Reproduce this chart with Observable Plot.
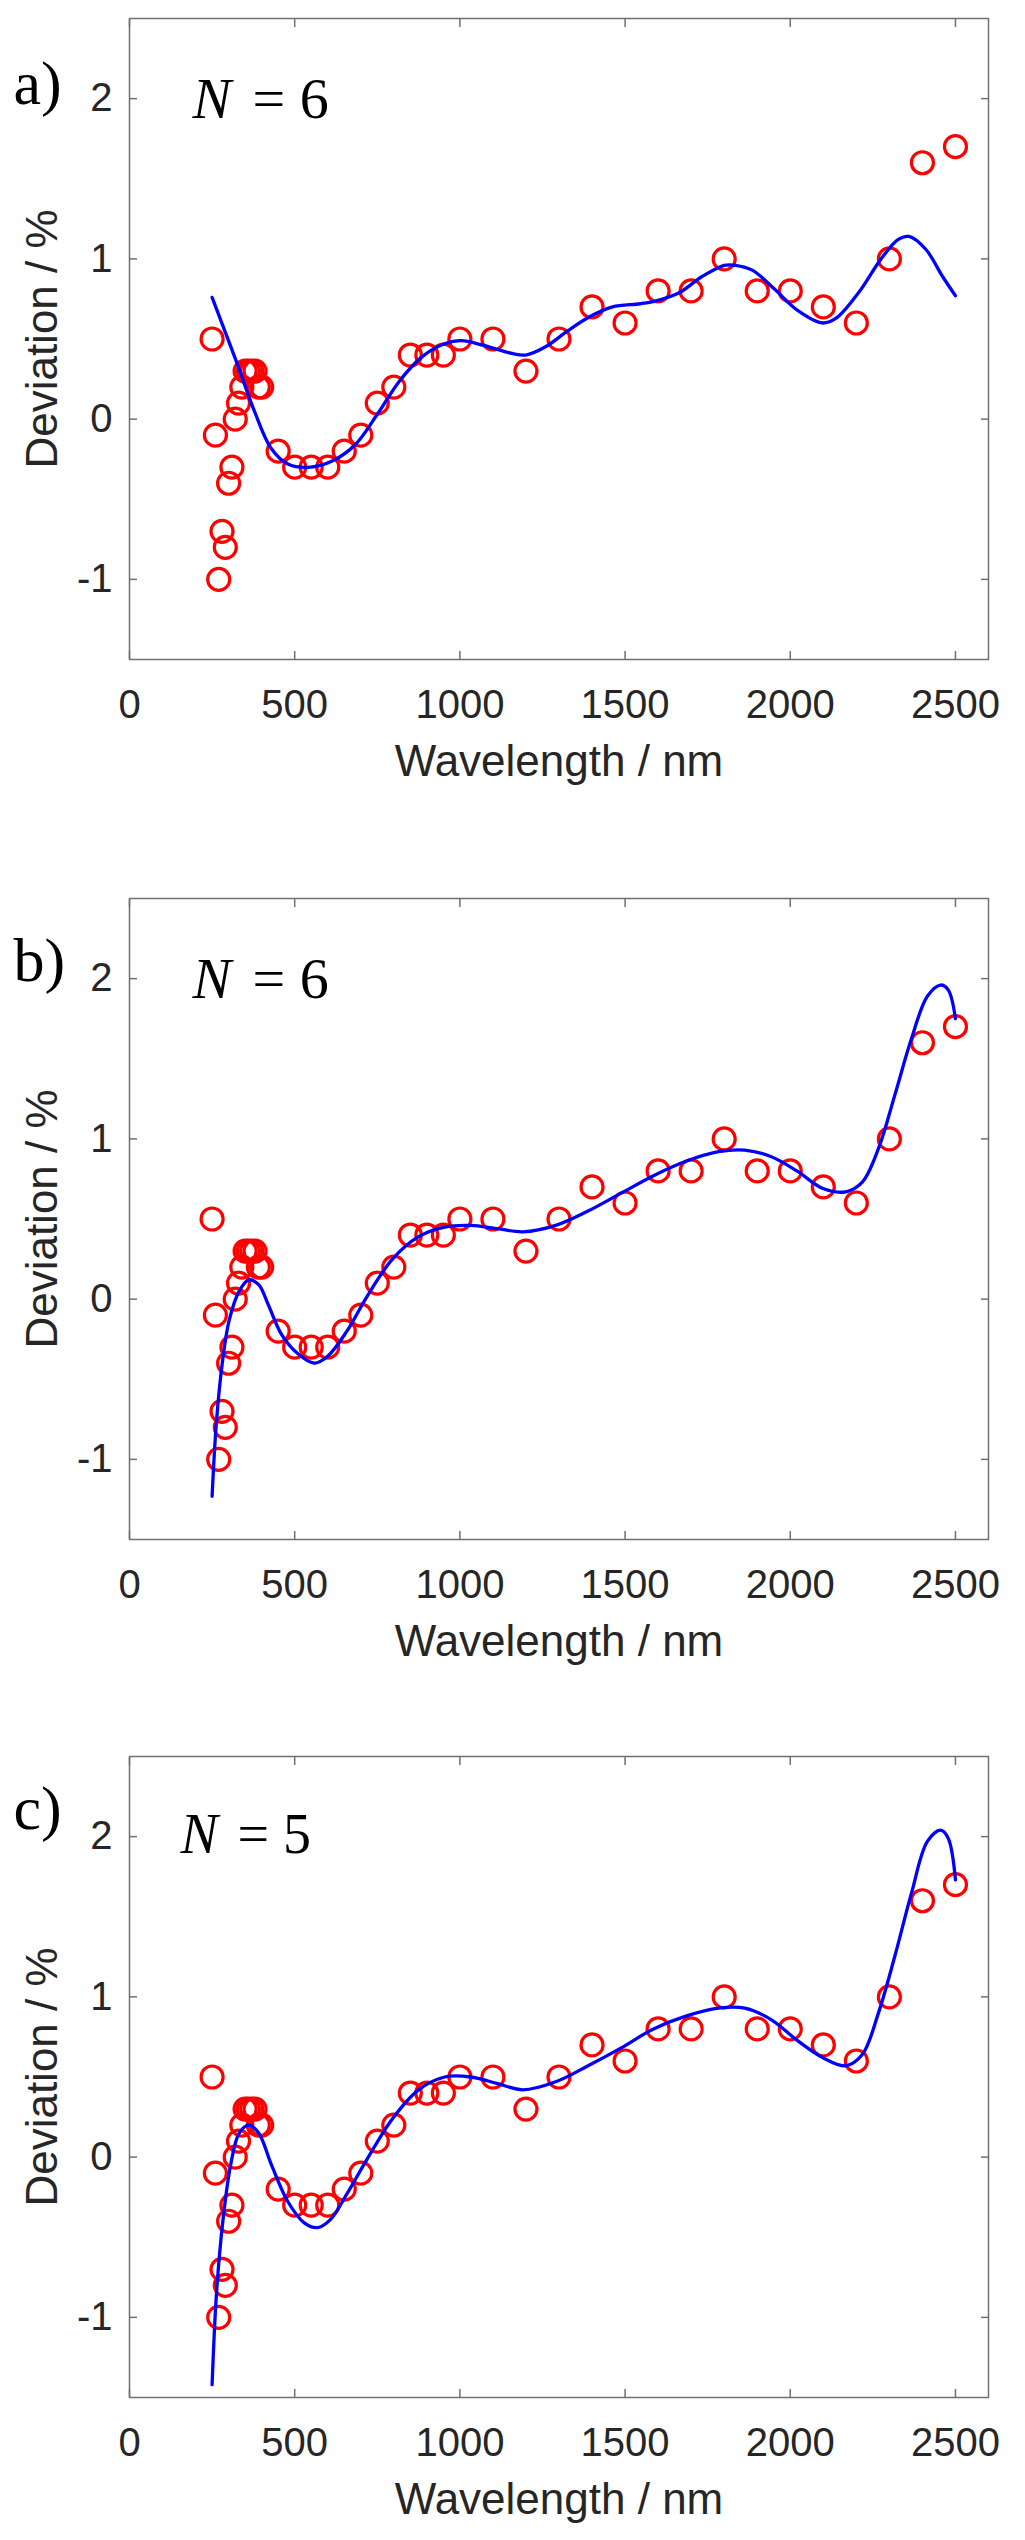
<!DOCTYPE html>
<html><head><meta charset="utf-8">
<script src="https://cdn.jsdelivr.net/npm/d3@7"></script>
<script src="https://cdn.jsdelivr.net/npm/@observablehq/plot@0.6"></script>
<style>
html,body{margin:0;padding:0;background:#fff;overflow:hidden;}
#root{position:relative;width:1025px;height:2540px;}
.panel{position:absolute;left:0;}
</style></head><body><div id="root"></div>
<script>
// measured deviations (red circles), identical in all three panels
const wavelength = [250,260,270,280,290,300,310,320,330,340,350,360,370,380,390,400,
  450,500,550,600,650,700,750,800,850,900,950,1000,1100,1200,1300,1400,1500,1600,1700,
  1800,1900,2000,2100,2200,2300,2400,2500];
const deviation = [0.5,-0.1,-1.0,-0.7,-0.8,-0.4,-0.3,0.0,0.1,0.2,0.3,0.3,0.3,0.3,0.2,0.2,
  -0.2,-0.3,-0.3,-0.3,-0.2,-0.1,0.1,0.2,0.4,0.4,0.4,0.5,0.5,0.3,0.5,0.7,0.6,0.8,0.8,
  1.0,0.8,0.8,0.7,0.6,1.0,1.6,1.7];

// fitted curves (blue lines)
const fitA_x = [250,327,378,428,479,547,615,683,750,818,886,954,1004,1072,1157,1199,1258,1326,1394,1462,1546,1597,1665,1733,1800,1834,1885,1953,2021,2097,2139,2207,2275,2326,2359,2410,2461,2500];
const fitA_y = [0.76,0.34,0.05,-0.18,-0.28,-0.30,-0.26,-0.16,0.03,0.24,0.39,0.47,0.49,0.46,0.41,0.40,0.45,0.55,0.64,0.70,0.72,0.74,0.79,0.89,0.96,0.96,0.93,0.81,0.68,0.60,0.63,0.79,1.0,1.12,1.14,1.06,0.89,0.77];

const fitB_x = [250,263,282,302,332,361,391,421,460,509,559,598,658,717,796,875,954,1033,1112,1191,1290,1388,1487,1586,1684,1783,1862,1941,2020,2099,2168,2218,2267,2316,2366,2415,2455,2478,2500];
const fitB_y = [-1.23,-0.77,-0.38,-0.13,0.05,0.12,0.09,-0.04,-0.22,-0.34,-0.40,-0.36,-0.20,0.01,0.25,0.39,0.45,0.46,0.44,0.42,0.46,0.55,0.66,0.77,0.86,0.92,0.93,0.89,0.80,0.69,0.67,0.73,0.94,1.27,1.62,1.89,1.96,1.93,1.75];

const fitC_x = [250,263,282,306,332,361,391,430,480,529,569,608,658,717,796,875,954,1033,1112,1191,1290,1388,1487,1586,1684,1783,1862,1941,2020,2099,2168,2218,2267,2316,2366,2415,2455,2478,2500];
const fitC_y = [-1.42,-0.86,-0.41,-0.05,0.15,0.20,0.15,-0.05,-0.28,-0.41,-0.44,-0.39,-0.23,-0.02,0.24,0.42,0.50,0.50,0.46,0.42,0.47,0.57,0.68,0.80,0.88,0.93,0.93,0.86,0.73,0.62,0.57,0.64,0.90,1.25,1.64,1.97,2.04,1.99,1.73];

const xTicks = [0,500,1000,1500,2000,2500];
const yTicks = [-1,0,1,2];
const xLabel = "Wavelength / nm";
const yLabel = "Deviation / %";
const panelLabels = ["a)","b)","c)"];
const orderN = ["6","6","5"];

const points = wavelength.map((w,i)=>({w, d: deviation[i]}));
const fits = [[fitA_x,fitA_y],[fitB_x,fitB_y],[fitC_x,fitC_y]].map(([xs,ys]) => xs.map((w,i)=>({w, d: ys[i]})));

const layout = [
  {top:0,    labelDy:85, nDy:99, nDx:63, eqDx:123, nSize:58},
  {top:880,  labelDy:82, nDy:99, nDx:63, eqDx:123, nSize:58},
  {top:1738, labelDy:72, nDy:96, nDx:51, eqDx:108, nSize:56}
];

const sans = "'Liberation Sans', Arial, Helvetica, sans-serif";
const serif = "'Liberation Serif', 'Times New Roman', serif";
const ink = "#262626";
const frameColor = "#707070";

const root = document.getElementById("root");
layout.forEach((L, k) => {
  const chart = Plot.plot({
    width: 1025, height: 800,
    marginTop: 18, marginLeft: 129, marginRight: 37, marginBottom: 141,
    x: {domain: [0, 2600]},
    y: {domain: [-1.5, 2.5]},
    style: {fontFamily: sans, color: ink, background: "white", overflow: "visible"},
    marks: [
      Plot.frame({stroke: frameColor, strokeWidth: 1.5}),
      // inward tick marks on all four sides
      Plot.axisX(xTicks, {anchor: "bottom", tickSize: -8, stroke: frameColor, strokeWidth: 1.5, tickFormat: () => "", label: null}),
      Plot.axisX(xTicks, {anchor: "top", tickSize: -8, stroke: frameColor, strokeWidth: 1.5, tickFormat: () => "", label: null}),
      Plot.axisY(yTicks, {anchor: "left", tickSize: -8, stroke: frameColor, strokeWidth: 1.5, tickFormat: () => "", label: null}),
      Plot.axisY(yTicks, {anchor: "right", tickSize: -8, stroke: frameColor, strokeWidth: 1.5, tickFormat: () => "", label: null}),
      // tick labels
      Plot.axisX(xTicks, {anchor: "bottom", tickSize: 0, tickPadding: 30, fontSize: 40, fill: ink, label: null, tickFormat: d3.format("d")}),
      Plot.axisY(yTicks, {anchor: "left", tickSize: 0, tickPadding: 17, fontSize: 40, fill: ink, label: null, tickFormat: d => d < 0 ? "-" + Math.abs(d) : String(d)}),
      // axis titles
      Plot.text([xLabel], {frameAnchor: "bottom", dy: 116, textAnchor: "middle", lineAnchor: "bottom", fontSize: 44, fill: ink}),
      Plot.text([yLabel], {frameAnchor: "left", dx: -87, rotate: -90, textAnchor: "middle", lineAnchor: "middle", fontSize: 44, fill: ink}),
      // panel letter and N annotation
      Plot.text([panelLabels[k]], {frameAnchor: "top-left", dx: -116, dy: L.labelDy, textAnchor: "start", lineAnchor: "bottom", fontFamily: serif, fontSize: 62, fill: "black"}),
      Plot.text(["N"], {frameAnchor: "top-left", dx: L.nDx, dy: L.nDy, textAnchor: "start", lineAnchor: "bottom", fontFamily: serif, fontStyle: "italic", fontSize: L.nSize, fill: "black"}),
      Plot.text(["= " + orderN[k]], {frameAnchor: "top-left", dx: L.eqDx, dy: L.nDy, textAnchor: "start", lineAnchor: "bottom", fontFamily: serif, fontSize: L.nSize, fill: "black"}),
      // data
      Plot.dot(points, {x: "w", y: "d", r: 11, stroke: "#ff0000", strokeWidth: 3.2, fill: "none"}),
      Plot.line(fits[k], {x: "w", y: "d", stroke: "#0000ff", strokeWidth: 3.3, curve: "catmull-rom"})
    ]
  });
  chart.classList.add("panel");
  chart.style.top = L.top + "px";
  root.appendChild(chart);
});
</script>
</body></html>
